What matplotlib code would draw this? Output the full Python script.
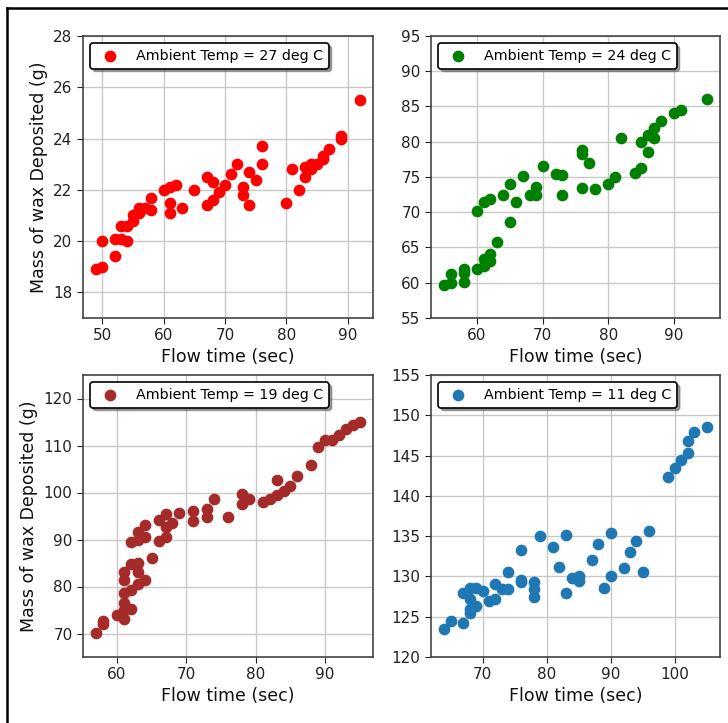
import matplotlib
matplotlib.use("Agg")
import matplotlib.pyplot as plt
from matplotlib.lines import Line2D

# ---- data ----
x27 = [49, 50, 50, 52, 52, 53, 53, 54, 54, 55, 55, 56, 56, 57, 58, 58, 60, 61, 61, 61, 62, 63, 65,
       67, 67, 68, 68, 69, 70, 71, 72, 73, 73, 74, 74, 75, 76, 76, 80, 81, 82, 83, 83, 84, 84, 85,
       86, 86, 87, 89, 89, 92]
y27 = [18.9, 19.0, 20.0, 19.4, 20.1, 20.1, 20.6, 20.0, 20.6, 20.8, 21.0, 21.3, 21.1, 21.3, 21.7, 21.2,
       22.0, 21.5, 21.1, 22.1, 22.2, 21.3, 22.0, 22.5, 21.4, 22.3, 21.6, 21.9, 22.2, 22.6, 23.0, 22.1,
       21.8, 22.7, 21.4, 22.4, 23.7, 23.0, 21.5, 22.8, 22.0, 22.9, 22.5, 23.0, 22.8, 23.0, 23.3, 23.2,
       23.6, 24.1, 24.0, 25.5]

x24 = [55, 56, 56, 58, 58, 58, 60, 60, 61, 61, 61, 62, 62, 62, 63, 64, 65, 65, 66, 67, 68, 69, 69,
       70, 72, 73, 73, 76, 76, 76, 77, 78, 80, 81, 82, 84, 85, 85, 86, 86, 87, 87, 88, 90, 91, 95]
y24 = [59.7, 60.0, 61.2, 60.1, 62.0, 61.4, 62.0, 70.2, 62.4, 63.4, 71.4, 63.1, 64.1, 71.9, 65.8, 72.4,
       68.6, 74.0, 71.4, 75.2, 72.4, 73.6, 72.5, 76.6, 75.4, 75.3, 72.5, 78.9, 78.3, 73.5, 77.0, 73.3,
       74.0, 75.0, 80.5, 75.5, 76.3, 80.0, 78.5, 81.0, 82.0, 80.5, 83.0, 84.1, 84.5, 86.0]

x19 = [57, 58, 58, 60, 61, 61, 61, 61, 61, 61, 62, 62, 62, 62, 63, 63, 63, 63, 63, 64, 64, 64, 65,
       66, 66, 67, 67, 67, 68, 69, 71, 71, 73, 73, 74, 76, 78, 78, 79, 81, 82, 83, 83, 84, 85, 86,
       88, 89, 90, 91, 92, 93, 94, 95]
y19 = [70.2, 72.1, 72.7, 74.0, 73.0, 76.4, 78.6, 81.3, 83.0, 75.0, 75.2, 79.3, 84.7, 89.4, 80.6, 83.1,
       85.1, 91.5, 89.9, 81.4, 90.6, 93.0, 86.0, 89.6, 94.2, 90.6, 92.6, 95.4, 93.5, 95.6, 96.1, 93.9,
       96.5, 94.7, 98.6, 94.7, 99.6, 97.5, 98.6, 97.9, 98.6, 102.7, 99.5, 100.4, 101.4, 103.6, 105.9,
       109.6, 111.1, 111.1, 112.2, 113.6, 114.3, 115.0]

x11 = [64, 65, 67, 67, 68, 68, 68, 68, 69, 69, 70, 71, 72, 72, 73, 74, 74, 76, 76, 76, 78, 78, 78,
       79, 81, 82, 83, 83, 84, 85, 85, 87, 88, 89, 90, 90, 92, 93, 94, 95, 96, 99, 100, 101, 102,
       102, 103, 105]
y11 = [123.5, 124.5, 124.2, 128.0, 128.6, 127.2, 125.9, 125.5, 128.6, 126.3, 128.2, 127.0, 129.0, 127.2,
       128.5, 130.5, 128.5, 133.3, 129.6, 129.3, 129.3, 128.4, 127.5, 135.0, 133.7, 131.2, 135.2, 128.0,
       129.8, 130.0, 129.4, 132.1, 134.0, 128.6, 135.4, 130.1, 131.0, 133.0, 134.4, 130.5, 135.7, 142.3,
       143.4, 144.4, 145.3, 146.8, 147.9, 148.5]

labels = ["Ambient Temp = 27 deg C", "Ambient Temp = 24 deg C",
          "Ambient Temp = 19 deg C", "Ambient Temp = 11 deg C"]
colors = ["red", "green", "brown", "#1f77b4"]
ylims = [(17, 28), (55, 95), (65, 125), (120, 155)]
yticks = [[18, 20, 22, 24, 26, 28], [55, 60, 65, 70, 75, 80, 85, 90, 95],
          [70, 80, 90, 100, 110, 120], [120, 125, 130, 135, 140, 145, 150, 155]]
xs = [x27, x24, x19, x11]
ys = [y27, y24, y19, y11]

xlabel = "Flow time (sec)"
ylabel = "Mass of wax Deposited (g)"

fig = plt.figure(figsize=(7.28, 7.23), dpi=100)
W, H = 728, 723
boxes = [(83, 36, 373, 318), (431, 36, 720, 318), (83, 375, 373, 657), (431, 375, 720, 657)]

for i, (l, t, r, b) in enumerate(boxes):
    ax = fig.add_axes([l / W, 1 - b / H, (r - l) / W, (b - t) / H])
    ax.scatter(xs[i], ys[i], s=55, color=colors[i], label=labels[i], zorder=3)
    ax.set_ylim(*ylims[i])
    ax.set_yticks(yticks[i])
    ax.grid(True, color="#c8c8c8", linewidth=1.0, zorder=0)
    ax.set_axisbelow(True)
    ax.tick_params(labelsize=11, colors="#222222", length=4)
    for sp in ax.spines.values():
        sp.set_color("#444444")
        sp.set_linewidth(1.2)
    ax.set_xlabel(xlabel, fontsize=12.5, color="#111111", labelpad=3)
    if i % 2 == 0:
        ax.set_ylabel(ylabel, fontsize=12.5, color="#111111")
    leg = ax.legend(loc="upper left", scatterpoints=1, shadow=True, fancybox=True,
                    fontsize=10.3, borderpad=0.4, handletextpad=0.8)
    leg.get_frame().set_edgecolor("black")
    leg.get_frame().set_linewidth(1.2)

# outer border of the screenshot frame
fig.add_artist(Line2D([7 / W, 7 / W], [0, 1 - 8 / H], color="black", linewidth=1.8,
                      transform=fig.transFigure))
fig.add_artist(Line2D([7 / W, 1], [1 - 8 / H, 1 - 8 / H], color="black", linewidth=1.8,
                      transform=fig.transFigure))

fig.savefig("out.png", dpi=100)
